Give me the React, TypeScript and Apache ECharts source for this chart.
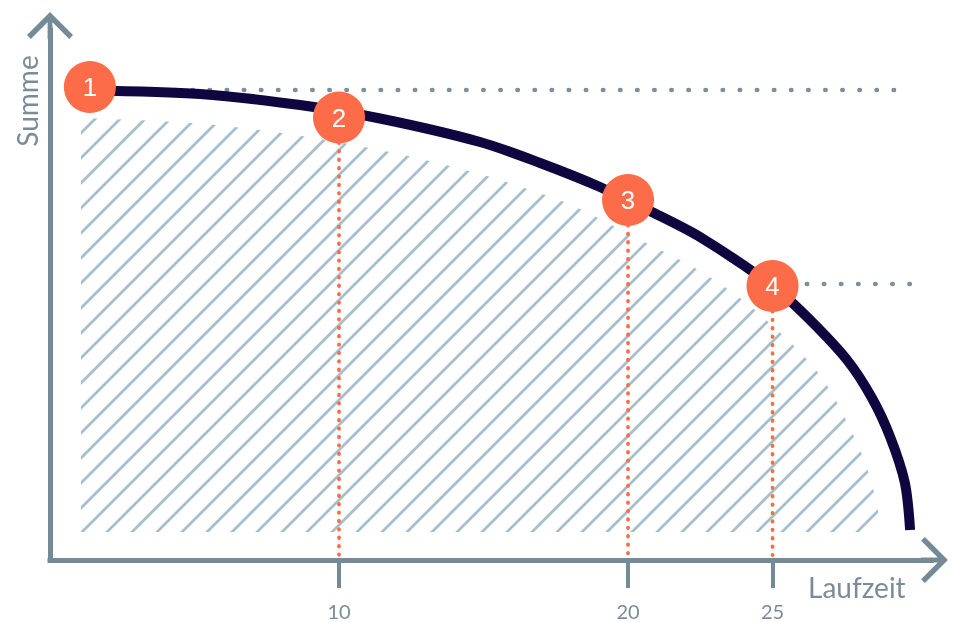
import React, { useEffect, useRef } from 'react';
import * as echarts from 'echarts';

// ---- data (axis units) ----
const xTicks = [10, 20, 25];
const curveX = [1.38, 5.19, 8.65, 11.42, 14.88, 16.96, 19.03, 20.76, 22.49, 25.05, 26.3, 27.58, 28.44, 29.07, 29.58, 29.76];
const curveY = [93.9, 93.2, 91.0, 88.3, 83.6, 79.4, 74.6, 69.8, 64.6, 54.6, 48.0, 40.0, 32.4, 24.6, 15.4, 6];
const hatchX = [1.07, 5.19, 8.65, 11.76, 14.88, 17.13, 18.34, 20.42, 22.49, 24.39, 26.64, 28.03, 28.58, 28.72];
const hatchY = [88.4, 87.3, 84.86, 81.6, 77.2, 73, 70.2, 64, 57.8, 50, 37, 22, 12, 5.6];
const hatchBase = 5.6;
const markerLabels = ['1', '2', '3', '4'];
const markerX = [1.38, 10, 20, 25];
const markerY = [94.6, 88.5, 72, 54.8];
const dropBottom = 1;
const refTopY = 94.0;
const refMidY = 55.2;
const refEndX = 29.76;

const AXIS = '#748a97';
const TEXT = '#7b8c98';
const ORANGE = '#fd6c49';
const NAVY = '#0f0640';
const DOTS = '#7b909c';
const HATCH = '#a6bfcd';

const arrowPath =
  'path://M24,0L48,24L44,28L24,8L4,28L0,24ZM21.5,8L26.5,8L26.5,28L21.5,28Z';

function makeHatch() {
  const c = document.createElement('canvas');
  c.width = 25;
  c.height = 25;
  const ctx = c.getContext('2d')!;
  ctx.strokeStyle = HATCH;
  ctx.lineWidth = 2.8;
  ctx.lineCap = 'butt';
  ctx.beginPath();
  ctx.moveTo(-3, 17);
  ctx.lineTo(17, -3);
  ctx.moveTo(11, 28);
  ctx.lineTo(28, 11);
  ctx.moveTo(-14, 3);
  ctx.lineTo(3, -14);
  ctx.stroke();
  return c;
}

export default function App() {
  const ref = useRef<HTMLDivElement>(null);
  useEffect(() => {
    if (!ref.current) return;
    const chart = echarts.init(ref.current, undefined, { renderer: 'svg' });
    const dotted = (color: string, width: number, gap: number) => ({
      color,
      width,
      type: [0.5, gap],
      cap: 'round',
    });
    const series: any[] = [
      {
        type: 'line',
        z: 1,
        data: hatchX.map((x, i) => [x, hatchY[i]]),
        showSymbol: false,
        smooth: 0.3,
        silent: true,
        lineStyle: { opacity: 0, width: 0 },
        areaStyle: {
          color: { image: makeHatch(), repeat: 'repeat' },
          origin: hatchBase,
          opacity: 1,
        },
      },
      {
        type: 'line',
        z: 2,
        data: [
          [markerX[0], refTopY],
          [refEndX, refTopY],
        ],
        showSymbol: false,
        silent: true,
        lineStyle: dotted(DOTS, 4.5, 16.6),
      },
      {
        type: 'line',
        z: 2,
        data: [
          [markerX[3], refMidY],
          [refEndX, refMidY],
        ],
        showSymbol: false,
        silent: true,
        lineStyle: dotted(DOTS, 4.5, 16.6),
      },
    ];
    for (let i = 1; i < markerX.length; i++) {
      series.push({
        type: 'line',
        z: 2,
        data: [
          [markerX[i], markerY[i]],
          [markerX[i], dropBottom],
        ],
        showSymbol: false,
        silent: true,
        lineStyle: dotted(ORANGE, 3.8, 7.9),
      });
    }
    series.push({
      type: 'line',
      z: 3,
      data: curveX.map((x, i) => [x, curveY[i]]),
      showSymbol: false,
      smooth: 0.3,
      silent: true,
      lineStyle: { color: NAVY, width: 10 },
    });
    series.push({
      type: 'scatter',
      z: 5,
      data: markerX.map((x, i) => ({ value: [x, markerY[i]], name: markerLabels[i] })),
      symbolSize: 52,
      itemStyle: { color: ORANGE, opacity: 1 },
      silent: true,
      label: {
        show: true,
        position: 'inside',
        formatter: '{b}',
        color: '#ffffff',
        fontSize: 26,
        fontFamily: 'Liberation Sans, Arial, sans-serif',
      },
    });

    chart.setOption({
      animation: false,
      grid: {
        left: 50,
        right: 26.5,
        top: 30,
        bottom: 62,
        containLabel: false,
        outerBoundsMode: 'none',
      },
      xAxis: {
        type: 'value',
        min: 0,
        max: 30.5,
        splitLine: { show: false },
        axisLine: {
          show: true,
          lineStyle: { color: AXIS, width: 5, cap: 'square' },
          symbol: ['none', arrowPath],
          symbolSize: [46, 27],
          symbolOffset: [0, 3],
        },
        axisTick: {
          show: true,
          customValues: xTicks,
          length: 28,
          lineStyle: { color: AXIS, width: 4 },
        },
        axisLabel: {
          show: true,
          customValues: xTicks,
          margin: 41,
          fontSize: 20,
          color: TEXT,
          fontFamily: 'Lato, sans-serif',
        },
      },
      yAxis: {
        type: 'value',
        min: 0,
        max: 106,
        splitLine: { show: false },
        axisLine: {
          show: true,
          lineStyle: { color: AXIS, width: 5, cap: 'square' },
          symbol: ['none', arrowPath],
          symbolSize: [46, 27],
          symbolOffset: [0, 4.5],
        },
        axisTick: { show: false },
        axisLabel: { show: false },
      },
      graphic: [
        {
          type: 'text',
          x: 808,
          y: 587,
          style: {
            text: 'Laufzeit',
            fill: TEXT,
            fontSize: 28,
            fontFamily: 'Lato, sans-serif',
            align: 'left',
            verticalAlign: 'middle',
          },
        },
        {
          type: 'text',
          x: 27,
          y: 101,
          rotation: Math.PI / 2,
          style: {
            text: 'Summe',
            fill: TEXT,
            fontSize: 28,
            fontFamily: 'Lato, sans-serif',
            align: 'center',
            verticalAlign: 'middle',
          },
        },
      ],
      series,
    });
    return () => chart.dispose();
  }, []);
  return (
    <div
      ref={ref}
      style={{ position: 'fixed', left: 0, top: 0, width: 958, height: 622 }}
    />
  );
}
